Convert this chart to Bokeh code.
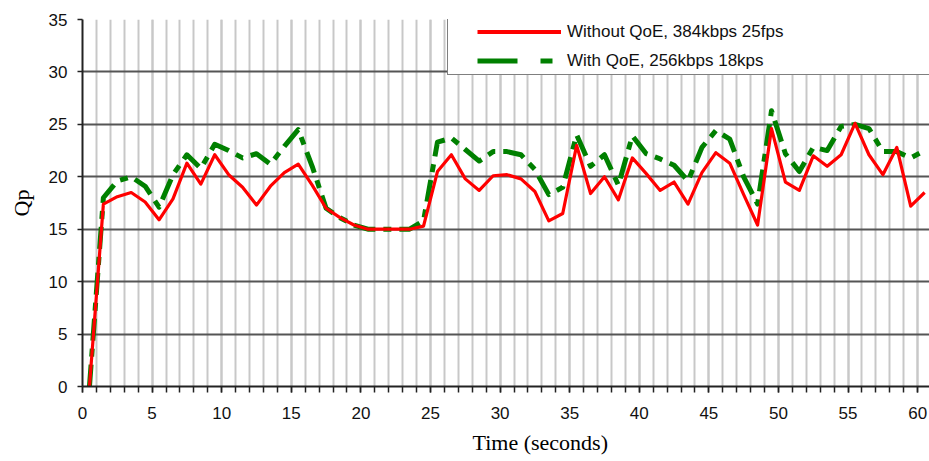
from bokeh.plotting import figure
from bokeh.models import (Title, Legend, LegendItem, SingleIntervalTicker,
                          ColumnDataSource, Range1d)
from bokeh.embed import file_html
from bokeh.resources import INLINE

# ---------------- data ----------------
time_s = [0.5, 1.5, 2.5, 3.5, 4.5, 5.5, 6.5, 7.5, 8.5, 9.5,
          10.5, 11.5, 12.5, 13.5, 14.5, 15.5, 16.5, 17.5, 18.5, 19.5,
          20.5, 21.5, 22.5, 23.5, 24.5, 25.5, 26.5, 27.5, 28.5, 29.5,
          30.5, 31.5, 32.5, 33.5, 34.5, 35.5, 36.5, 37.5, 38.5, 39.5,
          40.5, 41.5, 42.5, 43.5, 44.5, 45.5, 46.5, 47.5, 48.5, 49.5,
          50.5, 51.5, 52.5, 53.5, 54.5, 55.5, 56.5, 57.5, 58.5, 59.5,
          60.5]

qp_without_qoe = [0.0, 17.4, 18.1, 18.5, 17.6, 15.9, 17.9, 21.3, 19.3, 22.1,
                  20.2, 19.0, 17.3, 19.1, 20.4, 21.2, 19.2, 17.0, 16.1, 15.4,
                  15.0, 15.0, 15.0, 15.0, 15.3, 20.5, 22.1, 19.8, 18.7, 20.1,
                  20.2, 19.8, 18.6, 15.8, 16.5, 23.0, 18.4, 20.0, 17.8, 21.8,
                  20.3, 18.7, 19.5, 17.4, 20.4, 22.3, 21.3, 18.3, 15.4, 24.6,
                  19.5, 18.7, 22.0, 21.0, 22.1, 25.1, 22.1, 20.2, 22.8, 17.2,
                  18.5]

qp_with_qoe = [0.0, 18.0, 19.6, 20.0, 19.1, 17.1, 20.2, 22.1, 20.8, 23.1,
               22.5, 21.8, 22.2, 21.2, 22.9, 24.5, 21.0, 17.0, 16.1, 15.4,
               15.0, 15.0, 15.0, 15.0, 15.8, 23.3, 23.7, 22.6, 21.5, 22.4,
               22.4, 22.1, 20.7, 18.3, 19.0, 24.0, 21.0, 22.1, 19.2, 23.9,
               22.2, 21.7, 21.1, 19.6, 22.8, 24.4, 23.6, 20.0, 17.4, 26.3,
               22.2, 20.5, 22.8, 22.5, 24.8, 25.0, 24.6, 22.4, 22.4, 21.8,
               22.5]

series_labels = ["Without QoE, 384kbps 25fps", "With QoE, 256kbps 18kps"]
x_label = "Time (seconds)"
y_label = "Qp"

# ---------------- figure ----------------
p = figure(width=929, height=461, output_backend="svg", toolbar_location=None,
           x_range=Range1d(0, 60.85), y_range=Range1d(0, 35),
           min_border_left=82, min_border_right=0, min_border_top=19,
           min_border_bottom=74)
p.outline_line_color = None
p.background_fill_color = "white"
p.border_fill_color = "white"

# axes
p.xaxis.ticker = SingleIntervalTicker(interval=5, num_minor_ticks=5)
p.yaxis.ticker = SingleIntervalTicker(interval=5, num_minor_ticks=0)

for ax in (p.xaxis[0], p.yaxis[0]):
    ax.axis_line_color = "#222222"
    ax.axis_line_width = 2
    ax.major_tick_line_color = "#222222"
    ax.major_tick_line_width = 1.5
    ax.major_tick_in = 0
    ax.major_label_text_font = "Liberation Sans"
    ax.major_label_text_font_size = "17px"
    ax.major_label_text_color = "#111111"
    ax.axis_label_text_font = "Liberation Serif"
    ax.axis_label_text_font_size = "22px"
    ax.axis_label_text_font_style = "normal"
    ax.axis_label_text_color = "black"

p.xaxis.major_tick_out = 6
p.xaxis.minor_tick_out = 6
p.xaxis.minor_tick_in = 0
p.xaxis.minor_tick_line_color = "#222222"
p.xaxis.minor_tick_line_width = 1.5
p.xaxis.major_label_standoff = 14

p.yaxis.major_tick_out = 5
p.yaxis.minor_tick_line_color = None
p.yaxis.major_label_standoff = 10
p.yaxis.axis_label = y_label
p.yaxis.axis_label_standoff = 12

# grids
p.xgrid.grid_line_color = "#c8c8c8"
p.xgrid.grid_line_width = 2
p.xgrid.minor_grid_line_color = "#c8c8c8"
p.xgrid.minor_grid_line_width = 2
p.ygrid.grid_line_color = "#555555"
p.ygrid.grid_line_width = 2

# x label placed as a title below (offset to the right like the original)
p.add_layout(Title(text=x_label, align="left", offset=390, standoff=13,
                   text_font="Liberation Serif", text_font_size="22px",
                   text_font_style="normal", text_color="black"), "below")

# data lines
src = ColumnDataSource(dict(t=time_s, a=qp_without_qoe, b=qp_with_qoe))
p.line("t", "b", source=src, line_color="#008000", line_width=5,
       line_dash="22 8 8 8", line_cap="butt", line_join="round")
p.line("t", "a", source=src, line_color="#ff0000", line_width=3.2,
       line_join="round")

# legend swatches (single-point renderers: nothing shows in the plot)
swatch = ColumnDataSource(dict(t=[0.0], a=[0.0]))
r_leg_a = p.line("t", "a", source=swatch, line_color="#ff0000", line_width=4,
                 line_dash="84 229", line_dash_offset=284)
r_leg_b = p.line("t", "a", source=swatch, line_color="#008000", line_width=5,
                 line_dash="40 23 12 238", line_dash_offset=284)

legend = Legend(items=[LegendItem(label=series_labels[0], renderers=[r_leg_a]),
                       LegendItem(label=series_labels[1], renderers=[r_leg_b])],
                location=(365, 311), margin=0, padding=0, spacing=2,
                glyph_width=113, glyph_height=27, label_height=27,
                label_width=370, label_standoff=6,
                label_text_font="Liberation Sans", label_text_font_size="17px",
                label_text_color="#111111",
                border_line_color="black", border_line_width=1.2,
                background_fill_color="white", background_fill_alpha=1.0)
p.add_layout(legend, "center")

open("out.html", "w").write(file_html(p, INLINE))
